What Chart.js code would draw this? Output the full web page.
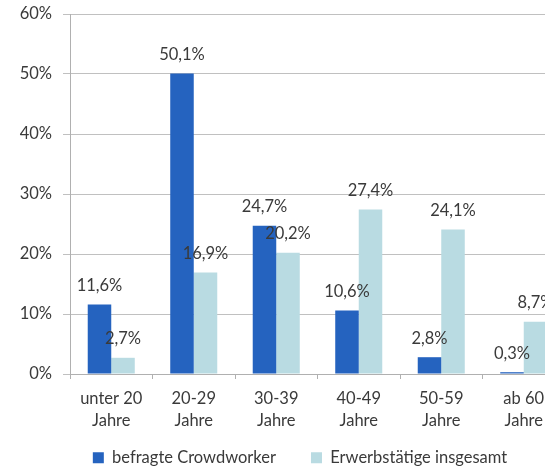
<!DOCTYPE html>
<html>
<head>
<meta charset="utf-8">
<script src="https://cdn.jsdelivr.net/npm/chart.js@4/dist/chart.umd.min.js"></script>
<style>
html,body{margin:0;padding:0;background:#fff;}
#wrap{width:545px;height:468px;overflow:hidden;position:relative;}
canvas{display:block;}
</style>
</head>
<body>
<div id="wrap"><canvas id="c" width="600" height="476"></canvas></div>
<script>
const categories = [['unter 20','Jahre'],['20-29','Jahre'],['30-39','Jahre'],['40-49','Jahre'],['50-59','Jahre'],['ab 60','Jahre']];
const crowdworker = [11.6, 50.1, 24.7, 10.6, 2.8, 0.3];
const erwerbstaetige = [2.7, 16.9, 20.2, 27.4, 24.1, 8.7];
const seriesNames = ['befragte Crowdworker', 'Erwerbstätige insgesamt'];
const yTicks = [0, 10, 20, 30, 40, 50, 60];

const FONT = 'Lato';
const TEXT = '#3a3a3a';
const FS = 16.5;

const labelPlugin = {
  id: 'valueLabels',
  afterLayout(chart) {
    // let the two-line category labels extend below the fixed axis box
    chart.scales.x.bottom = chart.height;
    // centre the legend on the whole canvas
    chart.legend.left = 0;
    chart.legend.right = chart.width;
  },
  afterDatasetsDraw(chart) {
    const ctx = chart.ctx;
    ctx.save();
    ctx.font = FS + 'px ' + FONT;
    ctx.fillStyle = TEXT;
    ctx.textAlign = 'center';
    ctx.textBaseline = 'middle';
    chart.data.datasets.forEach((ds, di) => {
      const meta = chart.getDatasetMeta(di);
      meta.data.forEach((el, i) => {
        const txt = ds.data[i].toFixed(1).replace('.', ',') + '%';
        ctx.fillText(txt, el.x, el.y - 19);
      });
    });
    ctx.restore();
  }
};

new Chart(document.getElementById('c'), {
  type: 'bar',
  data: {
    labels: categories,
    datasets: [
      { label: seriesNames[0], data: crowdworker, backgroundColor: '#2563bf', categoryPercentage: 0.57, barPercentage: 1.0 },
      { label: seriesNames[1], data: erwerbstaetige, backgroundColor: '#b9dbe2', categoryPercentage: 0.57, barPercentage: 1.0 }
    ]
  },
  options: {
    responsive: false,
    animation: false,
    devicePixelRatio: 1,
    layout: { padding: { top: 0, left: 0, right: 35, bottom: 0 } },
    plugins: {
      tooltip: { enabled: false },
      legend: {
        position: 'bottom',
        labels: {
          font: { family: FONT, size: FS },
          color: TEXT,
          boxWidth: 11,
          boxHeight: 11,
          padding: 35
        }
      }
    },
    scales: {
      x: {
        grid: { drawOnChartArea: false, drawTicks: true, tickLength: 5, color: '#b0b0b0', offset: true },
        border: { display: true, color: '#b0b0b0' },
        ticks: { font: { family: FONT, size: FS, lineHeight: 1.33 }, color: TEXT, padding: 9, maxRotation: 0 },
        afterFit(scale) { scale.height = 40.5; }
      },
      y: {
        min: 0, max: 60,
        afterBuildTicks(scale) { scale.ticks = yTicks.map(v => ({ value: v })); },
        grid: { color: '#c0c0c0', tickLength: 7 },
        border: { display: true, color: '#b0b0b0' },
        ticks: { font: { family: FONT, size: FS }, color: TEXT, padding: 11, callback: v => v + '%' },
        afterFit(scale) { scale.width = 70; scale.paddingTop = 14; scale.paddingBottom = 0; }
      }
    }
  },
  plugins: [labelPlugin]
});
</script>
</body>
</html>
